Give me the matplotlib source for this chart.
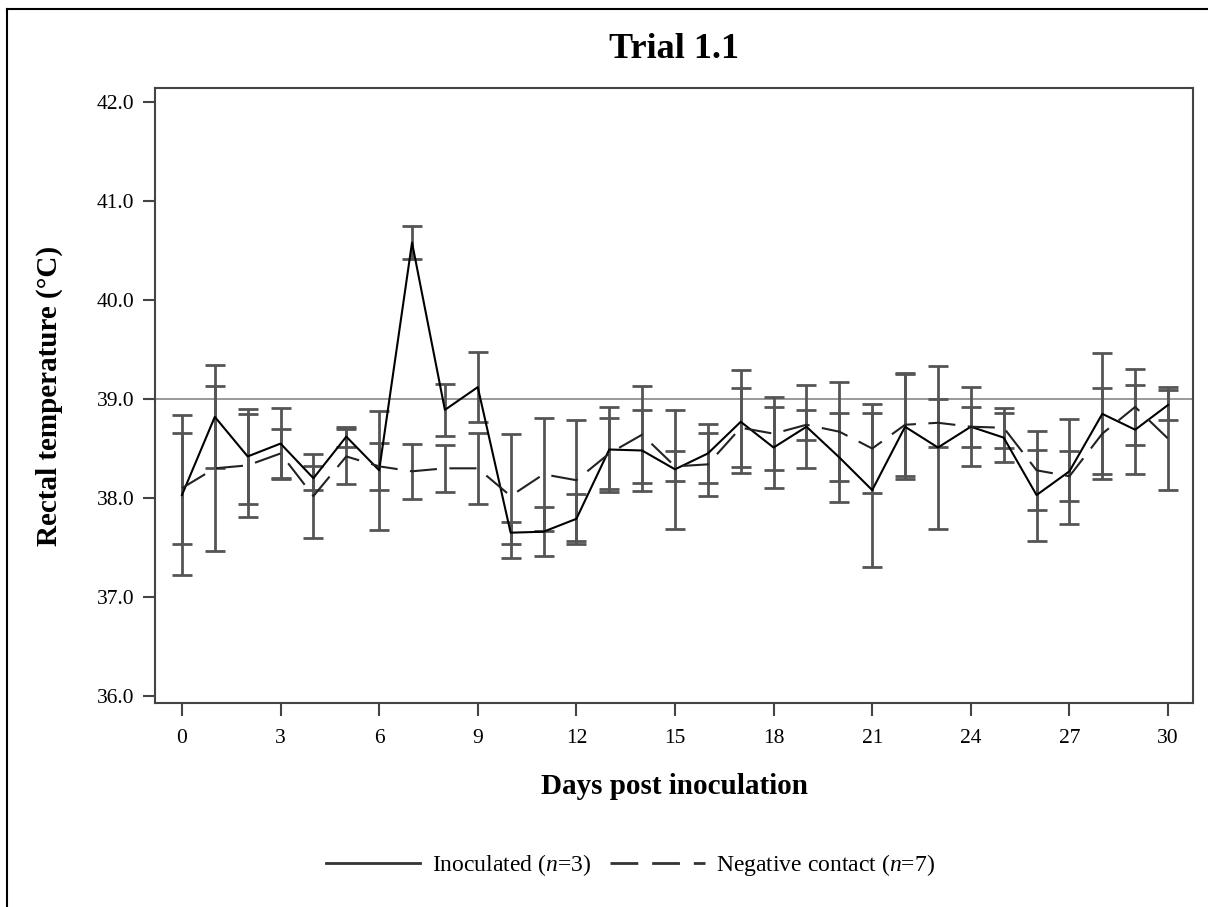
import numpy as np
import matplotlib
matplotlib.use("Agg")
import matplotlib.pyplot as plt
from matplotlib.lines import Line2D

plt.rcParams['font.family'] = ['Liberation Serif', 'DejaVu Serif']
plt.rcParams['mathtext.fontset'] = 'custom'
plt.rcParams['mathtext.it'] = 'Liberation Serif:italic'
plt.rcParams['mathtext.rm'] = 'Liberation Serif'

days = np.arange(0, 31)

# inoculated (n=3): mean and error
inoc_mean = [38.03, 38.82, 38.42, 38.55, 38.20, 38.62, 38.28, 40.58, 38.89, 39.12,
             37.65, 37.66, 37.79, 38.49, 38.48, 38.29, 38.45, 38.77, 38.51, 38.72,
             38.41, 38.08, 38.72, 38.51, 38.72, 38.61, 38.03, 38.27, 38.85, 38.69,
             38.94]
inoc_err = [0.81, 0.52, 0.48, 0.36, 0.12, 0.10, 0.60, 0.17, 0.26, 0.35,
            0.11, 0.25, 0.25, 0.43, 0.41, 0.60, 0.30, 0.52, 0.41, 0.42,
            0.45, 0.78, 0.53, 0.82, 0.40, 0.25, 0.46, 0.53, 0.61, 0.45,
            0.15]

# negative contact (n=7)
neg_mean = [38.10, 38.30, 38.33, 38.45, 38.02, 38.42, 38.32, 38.27, 38.30, 38.30,
            38.02, 38.24, 38.18, 38.45, 38.64, 38.32, 38.34, 38.71, 38.65, 38.74,
            38.67, 38.50, 38.74, 38.76, 38.72, 38.71, 38.28, 38.22, 38.65, 38.92,
            38.60]
neg_err = [0.56, 0.83, 0.52, 0.25, 0.42, 0.28, 0.24, 0.28, 0.24, 0.36,
           0.63, 0.57, 0.61, 0.36, 0.49, 0.15, 0.32, 0.40, 0.37, 0.15,
           0.50, 0.45, 0.52, 0.24, 0.20, 0.20, 0.40, 0.25, 0.46, 0.38,
           0.52]

fig = plt.figure(figsize=(12.08, 9.07), dpi=100)
ax = fig.add_axes([0.1283, 0.2249, 0.8593, 0.678])

ebar_kw = dict(ecolor='#555555', elinewidth=2, capsize=7, capthick=2)
ax.errorbar(days, inoc_mean, yerr=inoc_err, color='black', lw=1.5,
            linestyle='-', **ebar_kw)
ax.errorbar(days, neg_mean, yerr=neg_err, color='#222222', lw=1.5,
            linestyle=(0, (13, 6)), **ebar_kw)
ax.axhline(39.0, color='#888888', lw=1.2, zorder=0)

ax.set_xlim(-0.82, 30.76)
ax.set_ylim(35.93, 42.14)
ax.set_xticks(np.arange(0, 31, 3))
ax.set_yticks(np.arange(36, 42.1, 1))
ax.set_yticklabels([f"{v:.1f}" for v in np.arange(36, 42.1, 1)])
ax.tick_params(direction='out', length=9, width=1.5, color='#444444',
               labelsize=15.5)
ax.tick_params(axis='y', pad=6)
ax.tick_params(axis='x', pad=10)
for s in ax.spines.values():
    s.set_linewidth(1.5)
    s.set_color('#444444')

ax.set_title('Trial 1.1', fontsize=26, fontweight='bold', pad=22)
ax.set_xlabel('Days post inoculation', fontsize=21, fontweight='bold', labelpad=18)
ax.set_ylabel('Rectal temperature (°C)', fontsize=21, fontweight='bold', labelpad=24)

handles = [Line2D([], [], color='#333333', lw=2, linestyle='-'),
           Line2D([], [], color='#333333', lw=2, linestyle=(0, (10, 5)))]
labels = ['Inoculated ($n$=3)', 'Negative contact ($n$=7)']
fig.legend(handles, labels, loc='center', bbox_to_anchor=(0.522, 0.046),
           ncol=2, frameon=False, fontsize=17, handlelength=4,
           handletextpad=0.5, columnspacing=0.8)

# figure frame (top and left edges visible in the source)
fig.add_artist(Line2D([0.006, 0.006], [0, 0.99], color='black', lw=1.5,
                      transform=fig.transFigure))
fig.add_artist(Line2D([0.006, 1], [0.99, 0.99], color='black', lw=1.5,
                      transform=fig.transFigure))

fig.savefig('out.png', dpi=100)
